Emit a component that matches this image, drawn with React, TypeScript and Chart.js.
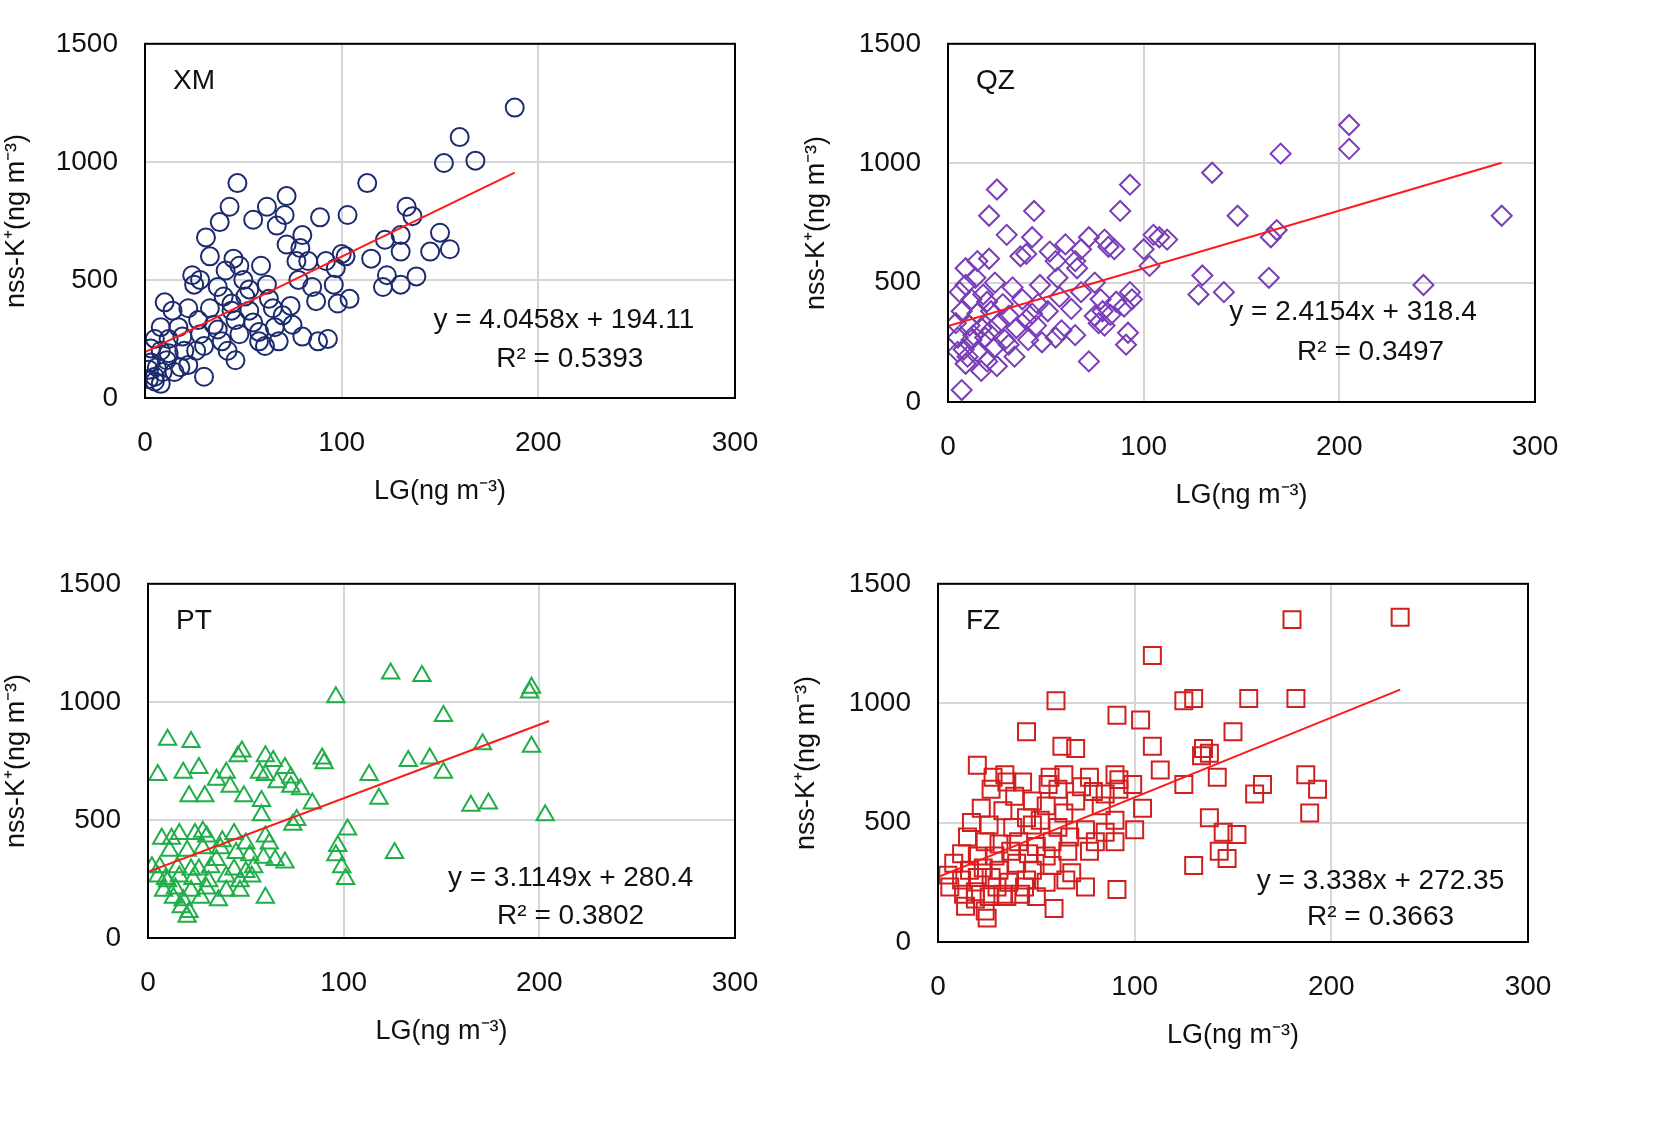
import React, { useEffect, useRef } from "react";
import { Chart, registerables } from "chart.js";
Chart.register(...registerables);

const xmX = [188,160,168,152,47,113,72,43,62,133,38,55,71,89,103,136,31,67,122,80,72,130,45,33,79,102,130,150,145,155,48,59,77,92,100,115,24,28,41,50,62,83,97,123,138,121,130,25,37,51,63,78,85,104,96,10,14,22,33,44,53,65,74,87,98,8,17,27,35,46,55,66,75,93,88,5,12,19,28,39,48,58,68,80,3,8,12,20,30,42,61,3,6,9,15,22,30,46,2,5,8,2,5,11,18,26,37,44,58,70,40,53];
const xmY = [1230,1105,1005,995,910,910,855,810,810,810,745,755,775,765,775,770,680,730,670,690,650,690,590,600,635,600,620,700,620,630,560,560,580,580,610,590,520,500,540,500,480,580,550,520,515,470,480,480,470,430,420,500,470,420,480,405,370,380,380,400,370,380,390,410,400,300,300,330,310,330,320,300,310,250,240,250,250,260,270,240,270,240,240,260,210,200,190,200,220,200,220,150,130,110,110,140,90,160,80,70,60,120,90,160,130,200,290,370,280,350,430,460];

const qzX = [205,205,170,135,93,25,44,88,148,283,21,30,72,80,105,108,112,168,165,43,40,60,68,82,85,100,52,15,9,21,37,55,65,130,164,243,103,14,9,6,18,24,33,47,56,66,75,93,128,141,12,20,28,38,46,57,68,78,86,94,7,15,22,31,43,51,63,79,90,4,11,17,26,35,45,58,77,92,5,12,19,29,41,55,65,91,8,15,24,34,48,72,10,20,25,17,9,5,7,13,22,31,40,75,80,83];
const qzY = [1160,1060,1040,960,910,890,800,800,780,780,780,700,690,680,700,690,680,720,690,690,620,660,640,650,640,640,630,590,560,600,610,590,590,530,520,490,570,520,490,460,450,500,480,490,520,560,500,460,450,460,430,420,410,430,410,440,460,430,420,430,380,370,380,360,370,380,390,380,400,330,320,310,330,310,320,300,330,290,270,260,270,260,260,270,280,240,220,210,230,190,250,170,190,170,150,130,160,210,50,280,300,240,345,360,320,365];

const ptX = [124,140,196,195,96,151,10,22,48,46,60,196,171,89,90,70,133,144,64,5,18,26,40,57,60,73,151,113,35,42,66,73,78,49,29,21,58,84,118,165,174,203,58,76,74,102,28,30,44,16,24,7,12,38,50,60,62,97,96,126,11,20,28,37,45,52,59,70,99,101,2,6,15,22,32,44,54,65,5,9,16,23,31,40,47,53,8,14,22,30,40,47,60,13,18,27,36,17,21,20,10,35,50,26];
const ptY = [1120,1110,1060,1040,1020,940,840,830,790,770,770,810,820,760,740,720,750,760,750,690,700,720,700,700,690,680,700,690,670,640,660,640,630,600,600,600,580,570,590,560,570,520,520,500,480,460,450,430,440,440,440,420,420,410,400,430,400,390,350,360,370,370,380,380,360,350,340,320,300,250,300,300,300,290,300,290,300,330,260,250,260,250,240,260,240,260,200,210,200,210,200,200,170,170,160,170,160,130,110,90,240,330,280,290];

const fzX = [235,180,109,130,60,125,158,182,91,103,45,150,109,63,70,135,138,134,20,34,28,35,43,57,64,77,90,92,113,125,142,187,193,165,161,56,61,73,79,85,99,92,27,39,48,70,83,104,22,33,45,55,64,90,138,189,17,26,38,48,52,61,75,85,100,145,152,15,24,31,41,50,58,67,80,90,143,147,130,12,20,29,37,46,55,66,77,8,16,23,31,40,48,58,68,75,91,5,12,20,27,36,45,55,65,6,13,19,26,33,42,50,59,14,24,25,35,19,30,44];
const fzY = [1360,1350,1200,1020,1010,1010,1020,1020,950,930,880,880,820,820,810,810,790,780,740,700,690,670,670,690,700,690,700,680,720,660,690,700,640,660,620,660,640,650,630,620,660,640,640,610,590,590,570,560,560,550,520,570,540,510,520,540,500,490,480,490,510,480,470,460,470,460,450,440,420,410,420,400,420,440,420,420,380,350,320,370,360,360,380,370,360,380,380,330,300,310,300,330,300,320,290,230,220,280,260,270,270,250,260,250,260,230,200,180,190,200,200,190,140,150,130,100,190,210,230,230];

const xTicks = [0, 100, 200, 300];
const yTicks = [0, 500, 1000, 1500];

const FONT = "'Liberation Sans', Arial, sans-serif";

type P = {
  left: number; top: number; w: number; h: number;
  area: [number, number, number, number];
  xs: number[]; ys: number[];
  style: string; color: string; radius: number;
  slope: number; icpt: number; xEnd: number;
  label: string; eq: string; r2: string;
  eqPos: [number, number]; r2Pos: [number, number];
};

function Panel(p: P) {
  const ref = useRef<HTMLCanvasElement>(null);
  useEffect(() => {
    const [l, t, r, b] = p.area;
    const pts = p.xs.map((x, i) => ({ x, y: p.ys[i] }));
    const line = [{ x: 0, y: p.icpt }, { x: p.xEnd, y: p.icpt + p.slope * p.xEnd }];
    const deco = {
      id: "deco",
      afterDraw(c: any) {
        const ctx = c.ctx; const a = c.chartArea;
        ctx.save();
        ctx.strokeStyle = "#000"; ctx.lineWidth = 2;
        ctx.strokeRect(a.left, a.top, a.right - a.left, a.bottom - a.top);
        ctx.fillStyle = "#111";
        ctx.font = `28px ${FONT}`;
        ctx.textBaseline = "middle";
        ctx.textAlign = "left";
        ctx.fillText(p.label, a.left + 28, a.top + 37);
        ctx.textAlign = "center";
        const W = a.right - a.left, H = a.bottom - a.top;
        ctx.fillText(p.eq, a.left + W * p.eqPos[0], a.top + H * p.eqPos[1]);
        ctx.fillText(p.r2, a.left + W * p.r2Pos[0], a.top + H * p.r2Pos[1]);
        ctx.restore();
      },
    };
    const chart = new Chart(ref.current!, {
      type: "scatter",
      data: {
        datasets: [
          { type: "line", data: line, borderColor: "#ff1a1a", borderWidth: 2, pointRadius: 0, order: 0 } as any,
          { data: pts, pointStyle: p.style as any, pointRadius: p.radius, borderColor: p.color, backgroundColor: "rgba(0,0,0,0)", borderWidth: 2, order: 1 },
        ],
      },
      options: {
        animation: false, responsive: false,
        layout: { padding: { top: t, right: p.w - r, left: 0, bottom: 0 } },
        plugins: { legend: { display: false }, tooltip: { enabled: false } },
        scales: {
          x: {
            type: "linear", min: 0, max: 300,
            afterBuildTicks: (s: any) => { s.ticks = xTicks.map((v) => ({ value: v })); },
            afterFit: (s: any) => { s.height = p.h - b; },
            grid: { color: "#d6d6d6", lineWidth: 2, drawTicks: false },
            border: { display: false },
            ticks: { padding: 28, color: "#111", font: { family: FONT, size: 28 }, callback: (v: any) => String(v) },
            title: { display: true, text: "LG(ng m⁻³)", color: "#111", font: { family: FONT, size: 27 }, padding: { top: 0, bottom: p.h - b - 110 } },
          },
          y: {
            type: "linear", min: 0, max: 1500,
            afterBuildTicks: (s: any) => { s.ticks = yTicks.map((v) => ({ value: v })); },
            afterFit: (s: any) => { s.width = l; },
            grid: { color: "#d6d6d6", lineWidth: 2, drawTicks: false },
            border: { display: false },
            ticks: { padding: 27, color: "#111", font: { family: FONT, size: 28 }, callback: (v: any) => String(v) },
            title: { display: true, text: "nss-K⁺(ng m⁻³)", color: "#111", font: { family: FONT, size: 27 }, padding: { top: 0, bottom: 0 } },
          },
        },
      },
      plugins: [deco],
    });
    return () => chart.destroy();
  }, []);
  return (
    <canvas ref={ref} width={p.w} height={p.h}
      style={{ position: "absolute", left: p.left, top: p.top, width: p.w, height: p.h }} />
  );
}

export default function App() {
  const W = 790, H = 530;
  return (
    <div style={{ position: "absolute", left: 0, top: 0, width: 1665, height: 1121, background: "#fff" }}>
      <Panel left={0} top={0} w={W} h={H} area={[145, 15, 735, 398]} xs={xmX} ys={xmY}
        style="circle" color="#1c2a6e" radius={9} slope={4.0458} icpt={194.11} xEnd={188}
        label="XM" eq="y = 4.0458x + 194.11" r2="R² = 0.5393" eqPos={[0.71, 0.78]} r2Pos={[0.72, 0.89]} />
      <Panel left={800} top={0} w={W} h={H} area={[148, 18, 735, 402]} xs={qzX} ys={qzY}
        style="rectRot" color="#7a3db8" radius={10} slope={2.4154} icpt={318.4} xEnd={283}
        label="QZ" eq="y = 2.4154x + 318.4" r2="R² = 0.3497" eqPos={[0.69, 0.75]} r2Pos={[0.72, 0.86]} />
      <Panel left={0} top={540} w={W} h={H} area={[148, 15, 735, 398]} xs={ptX} ys={ptY}
        style="triangle" color="#1fae48" radius={10} slope={3.1149} icpt={280.4} xEnd={205}
        label="PT" eq="y = 3.1149x + 280.4" r2="R² = 0.3802" eqPos={[0.72, 0.83]} r2Pos={[0.72, 0.94]} />
      <Panel left={790} top={540} w={W} h={H} area={[148, 17, 738, 402]} xs={fzX} ys={fzY}
        style="rect" color="#d01f1f" radius={12} slope={3.338} icpt={272.35} xEnd={235}
        label="FZ" eq="y = 3.338x + 272.35" r2="R² = 0.3663" eqPos={[0.75, 0.83]} r2Pos={[0.75, 0.93]} />
    </div>
  );
}
